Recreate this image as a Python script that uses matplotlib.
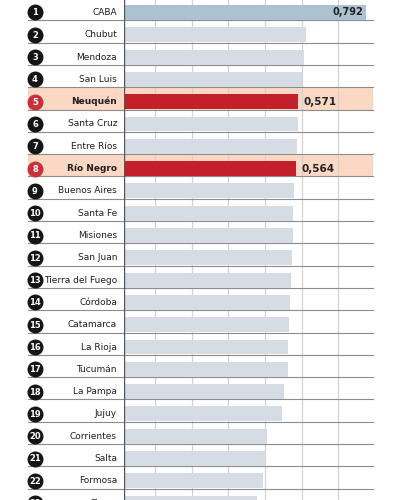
import matplotlib
matplotlib.use("Agg")
import matplotlib.pyplot as plt

provincias = ["CABA", "Chubut", "Mendoza", "San Luis", "Neuquén", "Santa Cruz",
              "Entre Ríos", "Río Negro", "Buenos Aires", "Santa Fe", "Misiones",
              "San Juan", "Tierra del Fuego", "Córdoba", "Catamarca", "La Rioja",
              "Tucumán", "La Pampa", "Jujuy", "Corrientes", "Salta", "Formosa", "Chaco"]
idh = [0.792, 0.596, 0.589, 0.581, 0.571, 0.568, 0.565, 0.564, 0.556, 0.554, 0.552,
       0.550, 0.545, 0.543, 0.541, 0.537, 0.536, 0.524, 0.517, 0.467, 0.464, 0.454, 0.436]
ranking = list(range(1, len(provincias) + 1))
destacadas = ["Neuquén", "Río Negro"]
etiquetas = {"CABA": "0,792", "Neuquén": "0,571", "Río Negro": "0,564"}
grilla = [0.101, 0.221, 0.341, 0.461, 0.581, 0.701]

plt.rcParams['font.family'] = ['Liberation Sans Narrow', 'DejaVu Sans']

fig = plt.figure(figsize=(4, 5), dpi=100)
ax = fig.add_axes([124 / 400, 0, 249 / 400, 1])
ax.set_xlim(0, 249 / 305.6)
ax.set_ylim(21.86, -0.56)
ax.axis('off')

trans = ax.get_yaxis_transform()
x_left = (28 - 124) / 249
x_circ = (35 - 124) / 249

for g in grilla:
    ax.axvline(g, color='#d2d2d2', lw=0.9, zorder=1)
ax.axvline(0, color='#555555', lw=1.0, zorder=5)

for i, (nom, val, rk) in enumerate(zip(provincias, idh, ranking)):
    hl = nom in destacadas
    if hl:
        ax.fill_between([x_left, 1], i - 0.65, i + 0.35, transform=trans,
                        color='#fbd8c4', zorder=0, clip_on=False, lw=0)
    ax.plot([x_left, 1], [i + 0.35, i + 0.35], transform=trans, color='#8c8c8c',
            lw=0.8, zorder=2, clip_on=False)
    if nom == "CABA":
        col = '#adc2d1'
    elif hl:
        col = '#c3202b'
    else:
        col = '#d6dce4'
    ax.barh(i, val, height=0.67, color=col, zorder=3)

    ax.text(-7 / 249, i, nom, transform=trans, ha='right', va='center',
            fontsize=6.5, color='#1e1e1e', fontweight='bold' if hl else 'normal',
            clip_on=False)
    ax.scatter([x_circ], [i], transform=trans, s=110,
               color='#c7323a' if hl else '#151515', zorder=6, clip_on=False)
    ax.text(x_circ, i + 0.02, str(rk), transform=trans, ha='center',
            va='center', fontsize=6, color='white', fontweight='bold',
            zorder=7, clip_on=False)

    if nom in etiquetas:
        if nom == "CABA":
            ax.text(val - 0.01, i, etiquetas[nom], ha='right', va='center',
                    fontsize=7, fontweight='bold', color='#222222', zorder=8)
        else:
            ax.text(val + 0.016, i, etiquetas[nom], ha='left', va='center',
                    fontsize=7.5, fontweight='bold', color='#222222', zorder=8)

fig.savefig("out.png", dpi=100)
